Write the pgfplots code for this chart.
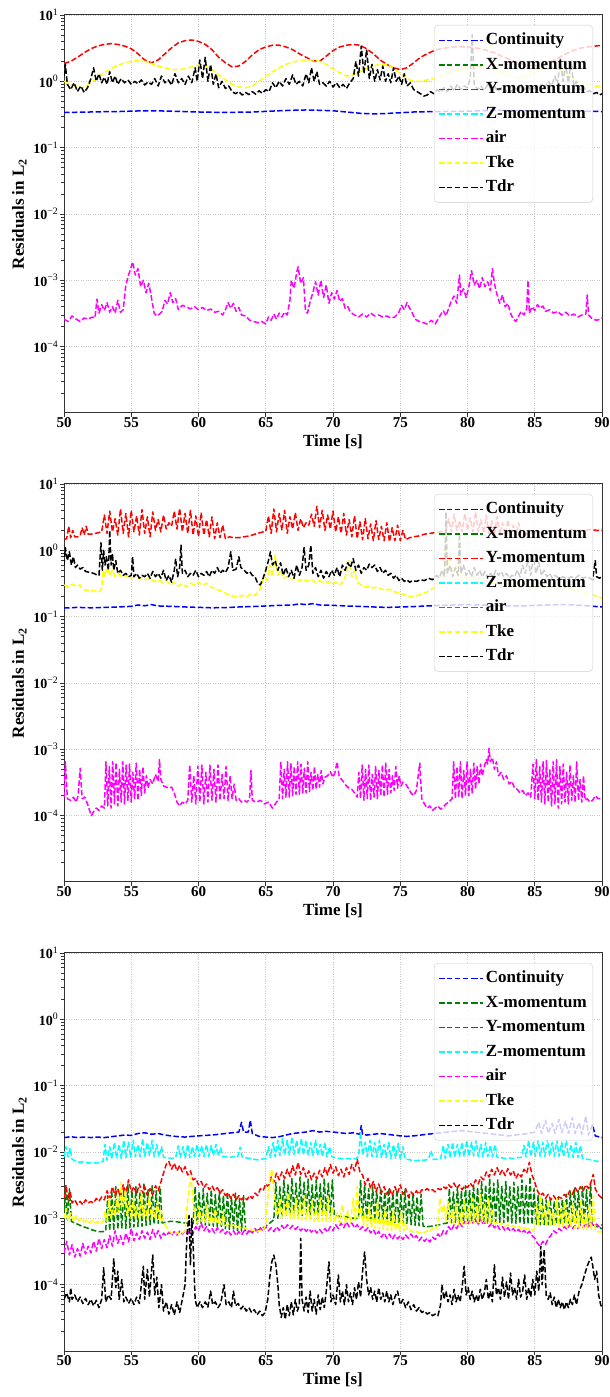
\documentclass[border=0pt]{standalone}
\usepackage{fontspec}
\setmainfont{Liberation Serif}
\usepackage{pgfplots}
\pgfplotsset{compat=1.18}

\definecolor{cContinuity}{RGB}{0,0,255}
\definecolor{cXmom}{RGB}{0,128,0}
\definecolor{cYmom}{RGB}{255,0,0}
\definecolor{cZmom}{RGB}{0,255,255}
\definecolor{cAir}{RGB}{255,0,255}
\definecolor{cTke}{RGB}{255,255,0}
\definecolor{cTdr}{RGB}{0,0,0}

\pgfplotsset{
  legend image code/.code={\draw[#1, line width=1.5pt, dash pattern=on 5.5pt off 2.4pt] (0pt,0pt) -- (33pt,0pt); \path (33pt,0pt) -- (44pt,0pt);},
  resline/.style={line width=1.5pt, dash pattern=on 5.5pt off 2.4pt, mark=none, line join=round},
}

\begin{document}
\begin{tikzpicture}
\useasboundingbox (0pt,0pt) rectangle (610pt,1397pt);

% ---------------- first run ----------------
\begin{axis}[at={(64pt,984pt)}, anchor=south west,
    ymode=log, scale only axis, width=538pt, height=398pt,
    xmin=50, xmax=90, ymin=1e-5, ymax=1e1,
    xtick={50,55,60,65,70,75,80,85,90},
    xticklabels={50,55,60,65,70,75,80,85,90},
    ytick={1e-4,1e-3,1e-2,1e-1,1e0,1e1},
    yticklabels={10\textsuperscript{\mdseries −4},10\textsuperscript{\mdseries −3},10\textsuperscript{\mdseries −2},10\textsuperscript{\mdseries −1},10\textsuperscript{\mdseries 0},10\textsuperscript{\mdseries 1}},
    minor ytick={2e-5,3e-5,4e-5,5e-5,6e-5,7e-5,8e-5,9e-5,2e-4,3e-4,4e-4,5e-4,6e-4,7e-4,8e-4,9e-4,2e-3,3e-3,4e-3,5e-3,6e-3,7e-3,8e-3,9e-3,2e-2,3e-2,4e-2,5e-2,6e-2,7e-2,8e-2,9e-2,0.2,0.3,0.4,0.5,0.6,0.7,0.8,0.9,2,3,4,5,6,7,8,9},
    tick pos=left, tick align=outside,
    major tick length=4pt, minor tick length=2.5pt,
    xmajorgrids, ymajorgrids,
    major grid style={gray!45, dotted, line width=0.6pt},
    axis line style={black!80, line width=1pt},
    tick style={black!80, line width=0.8pt},
    xticklabel style={font=\fontsize{15}{18}\selectfont\bfseries, inner sep=0.5pt},
    yticklabel style={font=\fontsize{14}{17}\selectfont\bfseries, inner sep=1.5pt},
    xlabel={Time [s]}, ylabel={Residuals in L\textsubscript{2}},
    xlabel style={font=\fontsize{17}{20}\selectfont\bfseries, at={(axis description cs:0.5,-0.073)}, anchor=center},
    ylabel style={font=\fontsize{17}{20}\selectfont\bfseries, at={(axis description cs:-0.083,0.5)}, anchor=center},
    legend cell align=left,
    legend style={at={(axis description cs:1,1)}, anchor=north east,
      xshift=-9pt, yshift=-10pt, draw=black!20, rounded corners=4pt,
      fill=white, fill opacity=0.8, text opacity=1,
      font=\fontsize{17}{20}\selectfont\bfseries,
      nodes={inner ysep=4.5pt, text height=12pt, text depth=3.5pt},
      inner xsep=4pt, inner ysep=3pt}]
\addplot[resline, color=cContinuity] coordinates {(50,0.34)(51,0.342)(52,0.345)(53,0.348)(54,0.35)(55,0.355)(56,0.36)(57,0.358)(58,0.355)(59,0.35)(60,0.345)(61,0.342)(62,0.34)(63,0.342)(64,0.345)(65,0.352)(66,0.36)(67,0.366)(68,0.37)(69,0.366)(70,0.36)(71,0.345)(72,0.33)(73,0.322)(74,0.328)(75,0.336)(76,0.345)(77,0.348)(78,0.35)(79,0.352)(80,0.355)(81,0.36)(82,0.365)(83,0.363)(84,0.36)(85,0.356)(86,0.355)(87,0.357)(88,0.36)(89,0.355)(90,0.35)};
\addlegendentry{Continuity}
\addlegendimage{resline, color=cXmom}
\addlegendentry{X-momentum}
\addplot[resline, color=cYmom] coordinates {(50,1.85)(50.5,2.0)(51,2.3)(51.5,2.7)(52,3.1)(52.5,3.4)(53,3.6)(53.5,3.7)(54,3.6)(54.5,3.4)(55,3.1)(55.5,2.6)(56,2.1)(56.5,1.9)(57,2.1)(57.5,2.6)(58,3.2)(58.5,3.8)(59,4.1)(59.5,4.2)(60,4.0)(60.5,3.6)(61,3.0)(61.5,2.3)(62,1.9)(62.5,1.65)(63,1.7)(63.5,2.0)(64,2.5)(64.5,3.0)(65,3.3)(65.5,3.5)(66,3.5)(66.5,3.3)(67,3.0)(67.5,2.6)(68,2.3)(68.5,2.05)(69,2.0)(69.5,2.4)(70,2.9)(70.5,3.3)(71,3.5)(71.5,3.6)(72,3.5)(72.5,3.1)(73,2.6)(73.5,2.1)(74,1.8)(74.5,1.6)(75,1.5)(75.5,1.6)(76,1.9)(76.5,2.3)(77,2.6)(77.5,2.9)(78,3.1)(78.5,3.2)(79,3.3)(79.5,3.3)(80,3.3)(80.5,3.2)(81,3.1)(81.5,2.9)(82,2.7)(82.5,2.4)(83,2.2)(83.5,2.0)(84,1.85)(84.5,1.75)(85,1.7)(85.5,1.75)(86,1.9)(86.5,2.1)(87,2.4)(87.5,2.7)(88,3.0)(88.5,3.2)(89,3.3)(89.5,3.4)(90,3.5)};
\addlegendentry{Y-momentum}
\addlegendimage{resline, color=cZmom}
\addlegendentry{Z-momentum}
\addplot[resline, color=cAir] coordinates {(50.0,2.6e-4)(50.3,2.4e-4)(50.6,2.9e-4)(50.9,2.6e-4)(51.2,2.4e-4)(51.5,2.7e-4)(51.8,2.6e-4)(52.1,2.8e-4)(52.3,2.7e-4)(52.45,5.2e-4)(52.6,3.2e-4)(52.8,4.3e-4)(53.0,3.5e-4)(53.2,4.6e-4)(53.4,3.3e-4)(53.6,4.0e-4)(53.8,3.2e-4)(54.0,5.0e-4)(54.2,3.3e-4)(54.4,3.6e-4)(54.6,8.5e-4)(54.8,1.2e-3)(55.0,1.6e-3)(55.1,1.9e-3)(55.3,1.2e-3)(55.5,1.5e-3)(55.7,8.0e-4)(55.9,1.0e-3)(56.1,6.5e-4)(56.3,9.0e-4)(56.5,5.5e-4)(56.7,3.2e-4)(56.9,2.9e-4)(57.1,3.1e-4)(57.3,3.4e-4)(57.5,5.0e-4)(57.7,4.4e-4)(57.9,6.5e-4)(58.1,4.6e-4)(58.3,5.3e-4)(58.5,3.6e-4)(58.8,4.2e-4)(59.1,4.0e-4)(59.4,3.7e-4)(59.7,4.0e-4)(60.0,3.6e-4)(60.3,3.9e-4)(60.6,3.5e-4)(60.9,3.7e-4)(61.2,3.3e-4)(61.5,3.4e-4)(61.8,3.0e-4)(62.0,3.6e-4)(62.2,4.6e-4)(62.4,3.8e-4)(62.6,4.5e-4)(62.8,3.4e-4)(63.0,3.9e-4)(63.2,3.0e-4)(63.5,2.9e-4)(63.8,2.5e-4)(64.1,2.4e-4)(64.4,2.3e-4)(64.7,2.4e-4)(65.0,2.2e-4)(65.2,2.8e-4)(65.4,2.5e-4)(65.6,3.1e-4)(65.8,2.6e-4)(66.0,3.2e-4)(66.2,2.8e-4)(66.4,3.3e-4)(66.6,3.0e-4)(66.8,5.0e-4)(66.9,1.0e-3)(67.1,7.5e-4)(67.3,1.3e-3)(67.4,1.6e-3)(67.6,9.0e-4)(67.8,1.1e-3)(67.95,3.5e-4)(68.1,3.2e-4)(68.3,4.8e-4)(68.5,6.5e-4)(68.7,9.5e-4)(68.9,6.0e-4)(69.1,1.0e-3)(69.3,5.5e-4)(69.5,8.5e-4)(69.7,4.5e-4)(69.9,6.5e-4)(70.1,5.2e-4)(70.3,7.0e-4)(70.5,4.8e-4)(70.7,5.3e-4)(70.9,3.8e-4)(71.1,4.0e-4)(71.3,3.3e-4)(71.6,3.0e-4)(71.9,2.8e-4)(72.2,3.1e-4)(72.5,2.8e-4)(72.8,3.2e-4)(73.1,2.9e-4)(73.4,3.0e-4)(73.7,2.8e-4)(74.0,2.9e-4)(74.3,2.7e-4)(74.6,2.8e-4)(74.9,3.3e-4)(75.1,4.2e-4)(75.3,3.6e-4)(75.5,4.6e-4)(75.7,3.8e-4)(75.9,3.2e-4)(76.1,2.6e-4)(76.4,2.4e-4)(76.7,2.3e-4)(77.0,2.2e-4)(77.3,2.5e-4)(77.6,2.2e-4)(77.9,2.8e-4)(78.2,3.5e-4)(78.4,2.9e-4)(78.6,3.8e-4)(78.8,4.9e-4)(79.0,5.8e-4)(79.2,4.5e-4)(79.4,1.2e-3)(79.5,6.0e-4)(79.7,7.5e-4)(79.9,5.5e-4)(80.1,8.0e-4)(80.3,1.4e-3)(80.5,8.5e-4)(80.7,1.0e-3)(80.9,7.5e-4)(81.1,1.1e-3)(81.3,8.0e-4)(81.5,9.5e-4)(81.7,7.0e-4)(81.85,1.5e-3)(82.0,9.0e-4)(82.2,6.0e-4)(82.4,4.5e-4)(82.6,6.0e-4)(82.8,4.0e-4)(83.0,4.5e-4)(83.2,3.2e-4)(83.4,2.6e-4)(83.6,2.4e-4)(83.8,2.9e-4)(84.0,3.4e-4)(84.2,3.0e-4)(84.4,3.7e-4)(84.5,1.0e-3)(84.6,3.2e-4)(84.8,4.0e-4)(85.0,3.5e-4)(85.2,4.3e-4)(85.4,3.8e-4)(85.6,4.1e-4)(85.8,3.4e-4)(86.1,3.6e-4)(86.4,3.2e-4)(86.7,3.4e-4)(87.0,3.0e-4)(87.3,3.3e-4)(87.6,2.9e-4)(87.9,3.1e-4)(88.2,2.8e-4)(88.5,3.0e-4)(88.8,3.1e-4)(88.9,6.0e-4)(89.0,3.0e-4)(89.3,2.6e-4)(89.6,2.5e-4)(89.9,2.6e-4)(90.0,2.7e-4)};
\addlegendentry{air}
\addplot[resline, color=cTke] coordinates {(50.0,1.0)(50.5,0.9)(51.0,0.82)(51.5,0.8)(52.0,0.95)(52.5,1.15)(53.0,1.35)(53.5,1.55)(54.0,1.75)(54.5,1.9)(55.0,2.0)(55.5,2.05)(56.0,2.0)(56.5,1.85)(57.0,1.7)(57.5,1.6)(58.0,1.5)(58.5,1.5)(59.0,1.55)(59.5,1.65)(60.0,1.75)(60.5,1.7)(61.0,1.5)(61.5,1.25)(62.0,1.05)(62.5,0.9)(63.0,0.82)(63.5,0.8)(64.0,0.85)(64.5,1.0)(65.0,1.2)(65.5,1.4)(66.0,1.6)(66.5,1.8)(67.0,1.95)(67.5,2.05)(68.0,2.1)(68.5,2.1)(69.0,2.0)(69.5,1.8)(70.0,1.55)(70.5,1.35)(71.0,1.2)(71.5,1.25)(72.0,1.4)(72.5,1.55)(73.0,1.7)(73.5,1.8)(74.0,1.8)(74.5,1.6)(75.0,1.3)(75.5,1.1)(76.0,1.0)(76.5,1.0)(77.0,1.05)(77.5,1.1)(78.0,1.2)(78.5,1.3)(79.0,1.4)(79.5,1.5)(80.0,1.6)(80.5,1.7)(81.0,1.7)(81.5,1.6)(82.0,1.5)(82.5,1.35)(83.0,1.25)(83.5,1.15)(84.0,1.15)(84.5,1.2)(85.0,1.35)(85.5,1.5)(86.0,1.6)(86.5,1.6)(87.0,1.45)(87.5,1.25)(88.0,1.05)(88.5,0.95)(89.0,0.9)(89.5,0.85)(90.0,0.85)};
\addlegendentry{Tke}
\addplot[resline, color=cTdr] coordinates {(50.0,1.2)(50.1,1.8)(50.25,0.9)(50.5,0.75)(50.75,0.95)(51.0,0.7)(51.25,0.85)(51.5,0.68)(51.75,0.8)(52.0,1.1)(52.2,1.6)(52.4,1.0)(52.6,1.3)(52.8,0.95)(53.0,1.15)(53.2,0.9)(53.4,1.4)(53.6,0.95)(53.8,1.2)(54.0,0.9)(54.25,1.1)(54.5,0.95)(54.75,1.05)(55.0,0.9)(55.25,1.0)(55.5,0.92)(55.75,1.05)(56.0,0.88)(56.25,0.98)(56.5,0.9)(56.75,1.1)(57.0,0.85)(57.25,1.2)(57.5,0.95)(57.75,1.05)(58.0,0.88)(58.25,1.3)(58.5,0.95)(58.75,1.1)(59.0,0.9)(59.25,1.2)(59.5,0.95)(59.75,1.6)(59.9,1.0)(60.1,2.1)(60.3,1.1)(60.5,2.3)(60.7,1.0)(60.9,1.8)(61.1,0.9)(61.3,1.3)(61.5,0.8)(61.75,1.0)(62.0,0.78)(62.25,0.85)(62.5,0.7)(62.75,0.65)(63.0,0.7)(63.25,0.62)(63.5,0.68)(63.75,0.63)(64.0,0.7)(64.25,0.64)(64.5,0.72)(64.75,0.66)(65.0,0.75)(65.25,0.7)(65.5,0.95)(65.75,0.8)(66.0,1.0)(66.25,0.85)(66.5,1.1)(66.75,0.9)(67.0,1.25)(67.25,0.9)(67.5,1.0)(67.75,0.85)(68.0,1.3)(68.2,0.95)(68.4,1.6)(68.6,1.0)(68.8,1.4)(69.0,0.9)(69.25,0.95)(69.5,0.85)(69.75,1.0)(70.0,0.82)(70.25,0.95)(70.5,0.8)(70.75,0.9)(71.0,0.78)(71.25,0.95)(71.5,1.1)(71.7,2.0)(71.9,1.2)(72.1,3.4)(72.3,1.3)(72.5,3.0)(72.7,1.1)(72.9,1.8)(73.1,1.0)(73.3,1.5)(73.5,1.05)(73.7,1.7)(73.9,1.0)(74.1,1.3)(74.3,0.95)(74.5,1.6)(74.7,1.0)(74.9,1.2)(75.1,0.9)(75.3,1.3)(75.5,0.85)(75.75,0.95)(76.0,0.75)(76.25,0.7)(76.5,0.65)(76.75,0.6)(77.0,0.62)(77.25,0.7)(77.5,0.65)(77.75,0.75)(78.0,0.68)(78.25,0.8)(78.5,0.7)(78.75,0.85)(79.0,0.72)(79.25,0.9)(79.5,0.75)(79.75,0.85)(80.0,0.8)(80.2,1.1)(80.35,5.0)(80.5,0.9)(80.75,0.75)(81.0,0.85)(81.25,0.72)(81.5,0.9)(81.75,0.75)(82.0,0.85)(82.25,0.7)(82.5,0.8)(82.75,0.68)(83.0,0.75)(83.25,0.7)(83.5,0.8)(83.75,0.72)(84.0,0.9)(84.25,0.75)(84.5,0.85)(84.75,0.72)(85.0,0.8)(85.25,0.75)(85.5,0.9)(85.75,0.8)(86.0,1.0)(86.25,0.85)(86.5,1.2)(86.7,0.9)(86.9,2.2)(87.1,1.0)(87.3,1.8)(87.5,0.95)(87.7,2.0)(87.9,0.85)(88.1,1.0)(88.35,0.75)(88.6,0.85)(88.85,0.7)(89.1,0.72)(89.35,0.65)(89.6,0.68)(89.8,0.62)(90.0,0.65)};
\addlegendentry{Tdr}
\end{axis}

% ---------------- second run ----------------
\begin{axis}[at={(64pt,515pt)}, anchor=south west,
    ymode=log, scale only axis, width=538pt, height=398pt,
    xmin=50, xmax=90, ymin=1e-5, ymax=1e1,
    xtick={50,55,60,65,70,75,80,85,90},
    xticklabels={50,55,60,65,70,75,80,85,90},
    ytick={1e-4,1e-3,1e-2,1e-1,1e0,1e1},
    yticklabels={10\textsuperscript{\mdseries −4},10\textsuperscript{\mdseries −3},10\textsuperscript{\mdseries −2},10\textsuperscript{\mdseries −1},10\textsuperscript{\mdseries 0},10\textsuperscript{\mdseries 1}},
    minor ytick={2e-5,3e-5,4e-5,5e-5,6e-5,7e-5,8e-5,9e-5,2e-4,3e-4,4e-4,5e-4,6e-4,7e-4,8e-4,9e-4,2e-3,3e-3,4e-3,5e-3,6e-3,7e-3,8e-3,9e-3,2e-2,3e-2,4e-2,5e-2,6e-2,7e-2,8e-2,9e-2,0.2,0.3,0.4,0.5,0.6,0.7,0.8,0.9,2,3,4,5,6,7,8,9},
    tick pos=left, tick align=outside,
    major tick length=4pt, minor tick length=2.5pt,
    xmajorgrids, ymajorgrids,
    major grid style={gray!45, dotted, line width=0.6pt},
    axis line style={black!80, line width=1pt},
    tick style={black!80, line width=0.8pt},
    xticklabel style={font=\fontsize{15}{18}\selectfont\bfseries, inner sep=0.5pt},
    yticklabel style={font=\fontsize{14}{17}\selectfont\bfseries, inner sep=1.5pt},
    xlabel={Time [s]}, ylabel={Residuals in L\textsubscript{2}},
    xlabel style={font=\fontsize{17}{20}\selectfont\bfseries, at={(axis description cs:0.5,-0.073)}, anchor=center},
    ylabel style={font=\fontsize{17}{20}\selectfont\bfseries, at={(axis description cs:-0.083,0.5)}, anchor=center},
    legend cell align=left,
    legend style={at={(axis description cs:1,1)}, anchor=north east,
      xshift=-9pt, yshift=-10pt, draw=black!20, rounded corners=4pt,
      fill=white, fill opacity=0.8, text opacity=1,
      font=\fontsize{17}{20}\selectfont\bfseries,
      nodes={inner ysep=4.5pt, text height=12pt, text depth=3.5pt},
      inner xsep=4pt, inner ysep=3pt}]
\addplot[resline, color=cContinuity] coordinates {(50,0.135)(51,0.138)(52,0.136)(53,0.138)(54,0.14)(55,0.143)(55.5,0.15)(56,0.146)(56.5,0.152)(57,0.145)(58,0.143)(59,0.14)(60,0.138)(61,0.136)(62,0.137)(63,0.14)(64,0.142)(65,0.145)(66,0.148)(67,0.15)(67.5,0.156)(68,0.152)(68.5,0.157)(69,0.15)(70,0.148)(71,0.145)(72,0.143)(73,0.14)(74,0.138)(75,0.14)(76,0.142)(77,0.145)(78,0.148)(79,0.15)(80,0.152)(81,0.15)(82,0.148)(83,0.146)(84,0.145)(85,0.148)(86,0.15)(87,0.152)(88,0.15)(89,0.145)(90,0.14)};
\addlegendentry{Continuity}
\addlegendimage{resline, color=cXmom}
\addlegendentry{X-momentum}
\addplot[resline, color=cYmom] coordinates {(50.0,1.45)(50.2,1.5)(50.35,2.3)(50.5,1.55)(50.65,2.0)(50.8,1.6)(51.0,1.6)(51.2,1.65)(51.35,2.2)(51.5,1.7)(51.65,2.3)(51.8,1.75)(52.0,1.75)(52.3,1.8)(52.6,1.85)(52.8,1.9)(53.0,3.4)(53.2,1.8)(53.4,3.9)(53.6,1.9)(53.8,3.0)(54.0,1.7)(54.2,4.2)(54.4,1.8)(54.6,3.6)(54.8,1.6)(55.0,4.0)(55.2,1.9)(55.4,3.3)(55.6,1.7)(55.8,4.1)(56.0,1.8)(56.2,3.2)(56.4,1.6)(56.6,3.8)(56.8,2.0)(57.0,2.9)(57.2,1.9)(57.4,3.4)(57.6,2.1)(57.8,2.6)(58.0,2.3)(58.2,3.9)(58.4,2.1)(58.6,4.3)(58.8,1.9)(59.0,3.6)(59.2,1.8)(59.4,4.0)(59.6,1.7)(59.8,3.3)(60.0,1.6)(60.2,3.7)(60.4,1.7)(60.6,2.9)(60.8,1.6)(61.0,3.2)(61.2,1.5)(61.4,2.6)(61.6,1.55)(61.8,2.4)(62.0,1.5)(62.3,1.6)(62.6,1.55)(63.0,1.55)(63.4,1.6)(63.8,1.65)(64.2,1.75)(64.6,1.85)(65.0,1.95)(65.2,3.3)(65.4,1.8)(65.6,4.2)(65.8,1.9)(66.0,3.6)(66.2,2.0)(66.4,4.0)(66.6,1.8)(66.8,3.2)(67.0,2.1)(67.2,3.7)(67.4,2.0)(67.6,3.0)(67.8,2.2)(68.0,2.6)(68.2,2.4)(68.4,3.5)(68.6,2.3)(68.8,4.6)(69.0,2.2)(69.2,4.0)(69.4,2.0)(69.6,3.4)(69.8,2.1)(70.0,3.9)(70.2,1.9)(70.4,3.2)(70.6,1.8)(70.8,3.6)(71.0,1.7)(71.2,2.9)(71.4,1.6)(71.6,3.3)(71.8,1.5)(72.0,2.7)(72.2,1.45)(72.4,3.0)(72.6,1.5)(72.8,2.5)(73.0,1.4)(73.2,2.8)(73.4,1.45)(73.6,2.3)(73.8,1.4)(74.0,2.6)(74.2,1.35)(74.4,2.2)(74.6,1.4)(74.8,2.4)(75.0,1.4)(75.2,2.0)(75.4,1.45)(75.7,1.55)(76.0,1.6)(76.4,1.65)(76.8,1.75)(77.2,1.8)(77.6,1.85)(78.0,1.9)(78.4,2.0)(78.6,3.0)(78.8,1.9)(79.0,3.5)(79.2,2.0)(79.4,2.8)(79.6,1.9)(79.8,3.6)(80.0,2.0)(80.2,3.1)(80.4,1.9)(80.6,3.8)(80.8,1.9)(81.0,2.9)(81.2,1.8)(81.4,3.4)(81.6,1.8)(81.8,2.8)(82.0,1.7)(82.2,3.2)(82.4,1.7)(82.6,2.6)(82.8,1.7)(83.0,2.9)(83.2,1.65)(83.4,2.4)(83.6,1.7)(83.8,2.6)(84.0,1.7)(84.3,1.75)(84.7,1.8)(85.2,1.85)(85.7,1.9)(86.2,1.95)(86.7,2.0)(87.2,2.0)(87.7,2.05)(88.2,2.0)(88.7,2.0)(89.2,2.05)(89.6,2.0)(90.0,2.0)};
\addlegendentry{Y-momentum}
\addlegendimage{resline, color=cZmom}
\addlegendentry{Z-momentum}
\addplot[resline, color=cAir] coordinates {(50.0,1.9e-4)(50.1,6.5e-4)(50.25,1.8e-4)(50.5,1.7e-4)(50.7,1.9e-4)(50.9,1.6e-4)(51.05,2.0e-4)(51.2,5.2e-4)(51.35,1.8e-4)(51.55,1.9e-4)(51.75,1.5e-4)(51.9,1.2e-4)(52.05,1.0e-4)(52.2,1.15e-4)(52.4,1.3e-4)(52.6,1.2e-4)(52.8,1.4e-4)(53.0,1.3e-4)(53.12,6.5e-4)(53.25,1.4e-4)(53.37,5.5e-4)(53.5,1.3e-4)(53.62,6.5e-4)(53.75,1.5e-4)(53.87,6.3e-4)(54.0,1.4e-4)(54.12,5.0e-4)(54.25,1.6e-4)(54.37,6.5e-4)(54.5,1.5e-4)(54.62,5.8e-4)(54.75,1.7e-4)(54.87,6.0e-4)(55.0,1.6e-4)(55.12,4.5e-4)(55.25,1.8e-4)(55.37,6.2e-4)(55.5,1.7e-4)(55.62,5.0e-4)(55.75,2.0e-4)(55.87,5.5e-4)(56.0,2.2e-4)(56.12,4.0e-4)(56.25,2.6e-4)(56.4,3.5e-4)(56.6,3.0e-4)(56.8,4.2e-4)(57.0,3.3e-4)(57.1,7.0e-4)(57.2,3.5e-4)(57.4,2.8e-4)(57.6,2.7e-4)(57.8,2.6e-4)(58.0,2.7e-4)(58.2,2.2e-4)(58.4,1.6e-4)(58.6,1.4e-4)(58.8,1.6e-4)(59.0,1.5e-4)(59.2,1.7e-4)(59.35,5.8e-4)(59.5,1.6e-4)(59.65,4.0e-4)(59.8,1.5e-4)(59.95,5.6e-4)(60.1,1.6e-4)(60.25,5.8e-4)(60.4,1.5e-4)(60.55,4.5e-4)(60.7,1.6e-4)(60.85,5.8e-4)(61.0,1.7e-4)(61.15,5.0e-4)(61.3,1.6e-4)(61.45,5.8e-4)(61.6,1.7e-4)(61.75,4.2e-4)(61.9,1.8e-4)(62.05,5.5e-4)(62.2,1.7e-4)(62.35,4.0e-4)(62.5,1.8e-4)(62.65,3.0e-4)(62.8,1.7e-4)(63.0,1.8e-4)(63.2,1.6e-4)(63.4,1.7e-4)(63.6,1.6e-4)(63.8,1.8e-4)(63.9,4.8e-4)(64.0,1.7e-4)(64.3,1.6e-4)(64.6,1.7e-4)(64.9,1.5e-4)(65.2,1.6e-4)(65.5,1.3e-4)(65.8,1.6e-4)(66.0,1.8e-4)(66.12,6.5e-4)(66.25,1.8e-4)(66.37,5.0e-4)(66.5,1.9e-4)(66.62,6.5e-4)(66.75,1.9e-4)(66.87,6.2e-4)(67.0,2.0e-4)(67.12,5.5e-4)(67.25,2.1e-4)(67.37,6.5e-4)(67.5,2.1e-4)(67.62,6.0e-4)(67.75,2.2e-4)(67.87,5.2e-4)(68.0,2.2e-4)(68.12,6.5e-4)(68.25,2.3e-4)(68.37,4.5e-4)(68.5,2.4e-4)(68.62,5.5e-4)(68.75,2.5e-4)(68.87,4.2e-4)(69.0,2.7e-4)(69.12,4.8e-4)(69.25,3.0e-4)(69.4,3.8e-4)(69.6,4.0e-4)(69.8,4.6e-4)(70.0,3.8e-4)(70.15,4.5e-4)(70.3,6.5e-4)(70.45,4.0e-4)(70.6,3.6e-4)(70.8,3.2e-4)(71.0,2.8e-4)(71.2,2.6e-4)(71.4,2.5e-4)(71.6,2.2e-4)(71.8,1.9e-4)(71.92,4.5e-4)(72.05,1.8e-4)(72.17,5.8e-4)(72.3,1.7e-4)(72.42,5.0e-4)(72.55,1.8e-4)(72.67,5.8e-4)(72.8,1.7e-4)(72.92,4.2e-4)(73.05,1.9e-4)(73.17,5.5e-4)(73.3,1.8e-4)(73.42,4.8e-4)(73.55,2.0e-4)(73.67,5.8e-4)(73.8,1.9e-4)(73.92,6.2e-4)(74.05,2.1e-4)(74.17,5.0e-4)(74.3,2.2e-4)(74.42,4.0e-4)(74.55,2.4e-4)(74.67,5.5e-4)(74.8,2.6e-4)(74.92,4.0e-4)(75.05,2.8e-4)(75.2,3.2e-4)(75.4,3.0e-4)(75.6,2.6e-4)(75.8,2.2e-4)(76.0,2.0e-4)(76.2,2.4e-4)(76.45,6.2e-4)(76.6,1.8e-4)(76.8,1.5e-4)(77.0,1.3e-4)(77.2,1.4e-4)(77.4,1.2e-4)(77.6,1.3e-4)(77.8,1.4e-4)(78.0,1.25e-4)(78.2,1.35e-4)(78.4,1.5e-4)(78.6,1.6e-4)(78.85,1.8e-4)(78.97,6.5e-4)(79.1,1.8e-4)(79.22,5.5e-4)(79.35,1.9e-4)(79.47,6.5e-4)(79.6,1.8e-4)(79.72,4.8e-4)(79.85,2.0e-4)(79.97,6.5e-4)(80.1,2.0e-4)(80.22,5.0e-4)(80.35,2.2e-4)(80.47,6.2e-4)(80.6,2.5e-4)(80.72,5.5e-4)(80.85,3.0e-4)(80.97,6.0e-4)(81.1,4.0e-4)(81.25,5.5e-4)(81.4,7.0e-4)(81.5,6.0e-4)(81.6,1.03e-3)(81.7,6.5e-4)(81.85,7.5e-4)(82.0,5.0e-4)(82.15,6.5e-4)(82.3,4.0e-4)(82.5,4.5e-4)(82.7,3.5e-4)(82.9,4.0e-4)(83.1,3.0e-4)(83.3,3.3e-4)(83.5,2.6e-4)(83.7,2.5e-4)(83.9,2.2e-4)(84.1,2.4e-4)(84.3,2.0e-4)(84.5,2.2e-4)(84.7,1.9e-4)(84.87,6.0e-4)(85.0,1.8e-4)(85.12,7.0e-4)(85.25,1.7e-4)(85.37,5.5e-4)(85.5,1.6e-4)(85.62,6.5e-4)(85.75,1.5e-4)(85.87,6.8e-4)(86.0,1.6e-4)(86.12,5.0e-4)(86.25,1.4e-4)(86.37,6.5e-4)(86.5,1.5e-4)(86.62,7.0e-4)(86.75,1.3e-4)(86.87,5.5e-4)(87.0,1.5e-4)(87.12,6.0e-4)(87.25,1.6e-4)(87.37,4.5e-4)(87.5,1.5e-4)(87.62,5.8e-4)(87.75,1.7e-4)(87.87,4.0e-4)(88.0,1.6e-4)(88.12,6.5e-4)(88.25,1.7e-4)(88.37,3.5e-4)(88.5,1.6e-4)(88.62,4.0e-4)(88.75,1.7e-4)(88.9,1.8e-4)(89.1,1.6e-4)(89.3,1.7e-4)(89.5,2.0e-4)(89.7,1.8e-4)(89.9,1.8e-4)(90.0,1.9e-4)};
\addlegendentry{air}
\addplot[resline, color=cTke] coordinates {(50.0,0.3)(50.3,0.28)(50.6,0.31)(50.9,0.29)(51.2,0.3)(51.4,0.26)(51.7,0.25)(52.0,0.24)(52.3,0.25)(52.6,0.24)(52.8,0.26)(52.9,0.5)(53.0,0.4)(53.2,0.55)(53.4,0.42)(53.6,0.5)(53.8,0.4)(54.0,0.45)(54.3,0.4)(54.6,0.42)(54.9,0.38)(55.2,0.4)(55.5,0.37)(55.8,0.39)(56.1,0.36)(56.4,0.38)(56.7,0.34)(57.0,0.36)(57.3,0.33)(57.6,0.35)(57.9,0.3)(58.2,0.33)(58.5,0.29)(58.8,0.31)(59.1,0.28)(59.4,0.32)(59.7,0.3)(60.0,0.33)(60.3,0.3)(60.6,0.32)(60.9,0.28)(61.2,0.27)(61.5,0.25)(61.8,0.24)(62.1,0.22)(62.4,0.21)(62.7,0.2)(63.0,0.2)(63.3,0.21)(63.6,0.2)(63.9,0.22)(64.2,0.21)(64.5,0.24)(64.7,0.3)(64.9,0.45)(65.1,0.35)(65.3,0.6)(65.5,0.4)(65.7,0.85)(65.9,0.42)(66.1,0.5)(66.3,0.38)(66.6,0.4)(66.9,0.36)(67.2,0.38)(67.5,0.35)(67.8,0.37)(68.1,0.34)(68.4,0.36)(68.7,0.33)(69.0,0.35)(69.3,0.32)(69.6,0.34)(69.9,0.31)(70.2,0.33)(70.5,0.3)(70.8,0.35)(71.0,0.45)(71.2,0.7)(71.4,0.4)(71.6,0.5)(71.8,0.33)(72.1,0.3)(72.4,0.28)(72.7,0.29)(73.0,0.27)(73.3,0.28)(73.6,0.26)(73.9,0.25)(74.2,0.26)(74.5,0.24)(74.8,0.23)(75.1,0.22)(75.4,0.21)(75.7,0.2)(76.0,0.2)(76.3,0.21)(76.6,0.22)(76.9,0.23)(77.2,0.25)(77.5,0.27)(77.8,0.3)(78.1,0.4)(78.3,0.6)(78.4,2.0)(78.5,0.5)(78.7,0.9)(78.9,0.45)(79.1,0.6)(79.3,0.4)(79.4,1.5)(79.5,0.45)(79.8,0.4)(80.1,0.38)(80.4,0.4)(80.7,0.36)(81.0,0.37)(81.3,0.34)(81.6,0.35)(81.9,0.32)(82.2,0.33)(82.5,0.3)(82.8,0.31)(83.1,0.29)(83.4,0.3)(83.7,0.28)(84.0,0.3)(84.3,0.28)(84.6,0.29)(84.9,0.27)(85.2,0.28)(85.5,0.26)(85.8,0.28)(86.1,0.27)(86.4,0.29)(86.7,0.27)(87.0,0.28)(87.3,0.26)(87.6,0.27)(87.9,0.25)(88.2,0.26)(88.5,0.24)(88.8,0.23)(89.1,0.22)(89.4,0.21)(89.7,0.2)(90.0,0.19)};
\addlegendentry{Tke}
\addplot[resline, color=cTdr] coordinates {(50.0,0.6)(50.1,1.1)(50.25,0.7)(50.4,0.95)(50.55,0.6)(50.7,0.8)(50.85,0.55)(51.0,0.6)(51.2,0.52)(51.4,0.55)(51.6,0.48)(51.8,0.47)(52.0,0.46)(52.2,0.45)(52.4,0.43)(52.6,0.42)(52.75,1.3)(52.85,0.5)(52.95,1.0)(53.05,0.6)(53.15,0.8)(53.3,0.5)(53.4,2.0)(53.5,0.6)(53.6,0.9)(53.7,0.5)(53.85,0.7)(54.0,0.45)(54.2,0.5)(54.4,0.42)(54.6,0.45)(54.8,0.4)(55.0,0.42)(55.1,0.8)(55.2,0.4)(55.4,0.45)(55.6,0.38)(55.8,0.42)(56.0,0.4)(56.2,0.45)(56.4,0.38)(56.6,0.48)(56.8,0.4)(57.0,0.45)(57.2,0.38)(57.4,0.5)(57.6,0.35)(57.8,0.42)(58.0,0.33)(58.2,0.5)(58.3,0.75)(58.45,0.4)(58.6,0.55)(58.7,1.2)(58.8,0.45)(59.0,0.5)(59.2,0.4)(59.4,0.45)(59.6,0.42)(59.8,0.5)(60.0,0.4)(60.2,0.45)(60.4,0.42)(60.6,0.48)(60.8,0.4)(61.0,0.5)(61.2,0.45)(61.4,0.55)(61.6,0.45)(61.8,0.5)(62.0,0.46)(62.2,0.55)(62.4,0.95)(62.55,0.5)(62.8,0.52)(63.0,0.8)(63.15,0.55)(63.4,0.5)(63.6,0.45)(63.8,0.48)(64.0,0.42)(64.2,0.4)(64.4,0.32)(64.6,0.3)(64.8,0.38)(65.0,0.5)(65.2,0.7)(65.35,0.95)(65.5,0.6)(65.7,0.7)(65.9,0.5)(66.1,0.65)(66.3,0.42)(66.5,0.55)(66.7,0.4)(66.9,0.5)(67.1,0.38)(67.3,0.6)(67.5,0.42)(67.7,0.55)(67.85,1.1)(68.0,0.5)(68.2,0.6)(68.35,1.2)(68.5,0.45)(68.7,0.55)(68.9,0.4)(69.1,0.5)(69.3,0.38)(69.5,0.48)(69.7,0.4)(69.9,0.5)(70.1,0.42)(70.3,0.55)(70.5,0.4)(70.7,0.6)(70.9,0.5)(71.1,0.65)(71.3,0.55)(71.5,0.75)(71.7,0.5)(71.9,0.6)(72.1,0.45)(72.3,0.55)(72.5,0.5)(72.7,0.62)(72.9,0.55)(73.1,0.6)(73.3,0.48)(73.5,0.55)(73.7,0.45)(73.9,0.5)(74.1,0.42)(74.3,0.45)(74.5,0.38)(74.7,0.42)(74.9,0.35)(75.1,0.38)(75.3,0.34)(75.5,0.36)(75.7,0.33)(75.9,0.35)(76.2,0.34)(76.5,0.36)(76.8,0.35)(77.1,0.38)(77.4,0.36)(77.7,0.42)(77.9,0.38)(78.1,0.5)(78.3,0.4)(78.4,3.8)(78.5,0.45)(78.7,0.6)(78.9,0.4)(79.1,0.55)(79.3,0.42)(79.4,1.8)(79.5,0.45)(79.7,0.6)(79.9,0.42)(80.1,0.5)(80.3,0.4)(80.5,0.55)(80.7,0.42)(80.9,0.5)(81.1,0.4)(81.3,0.48)(81.5,0.38)(81.7,0.45)(81.9,0.4)(82.1,0.5)(82.3,0.42)(82.5,0.48)(82.7,0.4)(82.9,0.45)(83.1,0.38)(83.3,0.42)(83.5,0.4)(83.7,0.5)(83.9,0.4)(84.1,0.6)(84.3,0.45)(84.5,0.75)(84.7,0.42)(84.9,0.8)(85.1,0.45)(85.3,0.65)(85.5,0.42)(85.7,0.5)(85.9,0.4)(86.1,0.45)(86.3,0.38)(86.5,0.42)(86.8,0.38)(87.1,0.4)(87.4,0.37)(87.7,0.4)(88.0,0.38)(88.3,0.42)(88.6,0.38)(88.9,0.4)(89.1,0.38)(89.3,0.36)(89.5,0.7)(89.6,0.4)(89.8,0.38)(90.0,0.4)};
\addlegendentry{Tdr}
\end{axis}

% ---------------- third run ----------------
\begin{axis}[at={(64pt,46pt)}, anchor=south west,
    ymode=log, scale only axis, width=538pt, height=398pt,
    xmin=50, xmax=90, ymin=1e-5, ymax=1e1,
    xtick={50,55,60,65,70,75,80,85,90},
    xticklabels={50,55,60,65,70,75,80,85,90},
    ytick={1e-4,1e-3,1e-2,1e-1,1e0,1e1},
    yticklabels={10\textsuperscript{\mdseries −4},10\textsuperscript{\mdseries −3},10\textsuperscript{\mdseries −2},10\textsuperscript{\mdseries −1},10\textsuperscript{\mdseries 0},10\textsuperscript{\mdseries 1}},
    minor ytick={2e-5,3e-5,4e-5,5e-5,6e-5,7e-5,8e-5,9e-5,2e-4,3e-4,4e-4,5e-4,6e-4,7e-4,8e-4,9e-4,2e-3,3e-3,4e-3,5e-3,6e-3,7e-3,8e-3,9e-3,2e-2,3e-2,4e-2,5e-2,6e-2,7e-2,8e-2,9e-2,0.2,0.3,0.4,0.5,0.6,0.7,0.8,0.9,2,3,4,5,6,7,8,9},
    tick pos=left, tick align=outside,
    major tick length=4pt, minor tick length=2.5pt,
    xmajorgrids, ymajorgrids,
    major grid style={gray!45, dotted, line width=0.6pt},
    axis line style={black!80, line width=1pt},
    tick style={black!80, line width=0.8pt},
    xticklabel style={font=\fontsize{15}{18}\selectfont\bfseries, inner sep=0.5pt},
    yticklabel style={font=\fontsize{14}{17}\selectfont\bfseries, inner sep=1.5pt},
    xlabel={Time [s]}, ylabel={Residuals in L\textsubscript{2}},
    xlabel style={font=\fontsize{17}{20}\selectfont\bfseries, at={(axis description cs:0.5,-0.073)}, anchor=center},
    ylabel style={font=\fontsize{17}{20}\selectfont\bfseries, at={(axis description cs:-0.083,0.5)}, anchor=center},
    legend cell align=left,
    legend style={at={(axis description cs:1,1)}, anchor=north east,
      xshift=-9pt, yshift=-10pt, draw=black!20, rounded corners=4pt,
      fill=white, fill opacity=0.8, text opacity=1,
      font=\fontsize{17}{20}\selectfont\bfseries,
      nodes={inner ysep=4.5pt, text height=12pt, text depth=3.5pt},
      inner xsep=4pt, inner ysep=3pt}]
\addplot[resline, color=cContinuity] coordinates {(50.0,0.0165)(50.5,0.017)(51.0,0.0165)(51.5,0.0168)(52.0,0.0165)(52.5,0.0168)(53.0,0.0165)(53.5,0.017)(54.0,0.0175)(54.5,0.018)(55.0,0.0178)(55.5,0.019)(56.0,0.0195)(56.5,0.0185)(57.0,0.019)(57.5,0.018)(58.0,0.0175)(58.5,0.017)(59.0,0.0168)(59.5,0.0172)(60.0,0.0175)(60.5,0.0178)(61.0,0.018)(61.5,0.0185)(62.0,0.019)(62.5,0.0195)(63.0,0.02)(63.2,0.028)(63.35,0.02)(63.7,0.02)(63.85,0.03)(64.0,0.019)(64.5,0.0172)(65.0,0.0168)(65.5,0.0165)(66.0,0.017)(66.5,0.018)(67.0,0.019)(67.5,0.0195)(68.0,0.02)(68.5,0.021)(69.0,0.02)(69.5,0.0205)(70.0,0.02)(70.5,0.0195)(71.0,0.019)(71.5,0.0195)(72.0,0.0185)(72.1,0.025)(72.2,0.0185)(72.5,0.018)(73.0,0.0185)(73.5,0.019)(74.0,0.0185)(74.5,0.018)(75.0,0.0175)(75.5,0.0172)(76.0,0.0175)(76.5,0.018)(77.0,0.0185)(77.5,0.019)(78.0,0.0195)(78.5,0.02)(79.0,0.0205)(79.5,0.021)(80.0,0.0205)(80.5,0.02)(81.0,0.0195)(81.5,0.019)(82.0,0.0185)(82.5,0.018)(83.0,0.0175)(83.5,0.018)(84.0,0.0185)(84.5,0.019)(85.0,0.02)(85.3,0.028)(85.5,0.019)(85.8,0.03)(86.0,0.019)(86.3,0.027)(86.5,0.019)(86.8,0.031)(87.0,0.0195)(87.3,0.029)(87.5,0.019)(87.8,0.033)(88.0,0.019)(88.3,0.028)(88.5,0.0185)(88.8,0.035)(89.0,0.018)(89.3,0.026)(89.5,0.0175)(90.0,0.0165)};
\addlegendentry{Continuity}
\addplot[resline, color=cXmom] coordinates {(50.0,1.0e-3)(50.12,3.0e-3)(50.25,9.5e-4)(50.4,2.8e-3)(50.55,9.0e-4)(50.8,8.5e-4)(51.1,8.0e-4)(51.4,7.5e-4)(51.7,7.2e-4)(52.0,6.8e-4)(52.3,6.5e-4)(52.6,6.3e-4)(52.9,6.3e-4)(53.1,6.4e-4)(53.25,2.2e-3)(53.4,6.5e-4)(53.55,2.6e-3)(53.7,6.6e-4)(53.85,3.0e-3)(54.0,6.8e-4)(54.15,2.4e-3)(54.3,7.0e-4)(54.45,2.8e-3)(54.6,7.0e-4)(54.75,3.2e-3)(54.9,7.2e-4)(55.05,2.6e-3)(55.2,7.4e-4)(55.35,3.0e-3)(55.5,7.5e-4)(55.65,2.5e-3)(55.8,7.6e-4)(55.95,3.4e-3)(56.1,7.8e-4)(56.25,2.7e-3)(56.4,8.0e-4)(56.55,3.1e-3)(56.7,8.2e-4)(56.85,2.6e-3)(57.0,8.4e-4)(57.15,2.9e-3)(57.3,8.5e-4)(57.6,8.8e-4)(57.9,9.0e-4)(58.2,9.0e-4)(58.5,8.8e-4)(58.8,8.6e-4)(59.1,8.5e-4)(59.4,8.4e-4)(59.6,8.3e-4)(59.75,3.0e-3)(59.9,8.2e-4)(60.05,2.5e-3)(60.2,8.0e-4)(60.35,2.8e-3)(60.5,7.9e-4)(60.65,2.4e-3)(60.8,7.8e-4)(60.95,2.7e-3)(61.1,7.6e-4)(61.25,2.3e-3)(61.4,7.4e-4)(61.55,2.6e-3)(61.7,7.2e-4)(61.85,2.2e-3)(62.0,7.0e-4)(62.15,2.5e-3)(62.3,6.8e-4)(62.45,2.1e-3)(62.6,6.6e-4)(62.75,2.4e-3)(62.9,6.5e-4)(63.05,2.0e-3)(63.2,6.4e-4)(63.35,2.2e-3)(63.5,6.3e-4)(63.8,6.3e-4)(64.1,6.4e-4)(64.4,6.6e-4)(64.7,7.0e-4)(65.0,7.6e-4)(65.3,8.5e-4)(65.6,9.5e-4)(65.75,3.5e-3)(65.9,1.0e-3)(66.05,3.0e-3)(66.2,1.05e-3)(66.35,3.8e-3)(66.5,1.1e-3)(66.65,3.2e-3)(66.8,1.1e-3)(66.95,4.0e-3)(67.1,1.1e-3)(67.25,3.4e-3)(67.4,1.1e-3)(67.55,4.2e-3)(67.7,1.1e-3)(67.85,3.5e-3)(68.0,1.1e-3)(68.15,3.9e-3)(68.3,1.1e-3)(68.45,3.2e-3)(68.6,1.1e-3)(68.75,3.8e-3)(68.9,1.1e-3)(69.05,3.3e-3)(69.2,1.1e-3)(69.35,4.0e-3)(69.5,1.1e-3)(69.65,3.4e-3)(69.8,1.1e-3)(69.95,3.8e-3)(70.1,1.1e-3)(70.4,1.08e-3)(70.7,1.05e-3)(71.0,1.05e-3)(71.3,1.02e-3)(71.6,1.0e-3)(71.9,1.0e-3)(72.05,3.8e-3)(72.2,9.8e-4)(72.35,3.2e-3)(72.5,9.6e-4)(72.65,2.8e-3)(72.8,9.4e-4)(72.95,3.0e-3)(73.1,9.2e-4)(73.25,2.6e-3)(73.4,9.0e-4)(73.55,2.9e-3)(73.7,8.9e-4)(73.85,2.5e-3)(74.0,8.8e-4)(74.15,2.8e-3)(74.3,8.7e-4)(74.45,2.4e-3)(74.6,8.6e-4)(74.75,2.7e-3)(74.9,8.5e-4)(75.05,2.3e-3)(75.2,8.4e-4)(75.35,2.6e-3)(75.5,8.2e-4)(75.65,2.2e-3)(75.8,8.0e-4)(75.95,2.4e-3)(76.1,7.8e-4)(76.25,2.1e-3)(76.4,7.7e-4)(76.55,2.3e-3)(76.7,7.6e-4)(77.0,7.5e-4)(77.3,7.6e-4)(77.6,7.8e-4)(77.9,8.0e-4)(78.2,8.3e-4)(78.5,8.5e-4)(78.65,2.8e-3)(78.8,8.6e-4)(78.95,2.5e-3)(79.1,8.7e-4)(79.25,3.0e-3)(79.4,8.8e-4)(79.55,2.6e-3)(79.7,8.9e-4)(79.85,3.1e-3)(80.0,9.0e-4)(80.15,2.7e-3)(80.3,9.0e-4)(80.45,3.3e-3)(80.6,9.0e-4)(80.75,2.9e-3)(80.9,9.0e-4)(81.05,3.6e-3)(81.2,9.0e-4)(81.35,3.2e-3)(81.5,8.9e-4)(81.65,4.0e-3)(81.8,8.8e-4)(81.95,3.4e-3)(82.1,8.8e-4)(82.25,3.8e-3)(82.4,8.7e-4)(82.55,3.1e-3)(82.7,8.6e-4)(82.85,3.6e-3)(83.0,8.5e-4)(83.15,3.0e-3)(83.3,8.5e-4)(83.45,3.5e-3)(83.6,8.4e-4)(83.75,3.0e-3)(83.9,8.3e-4)(84.05,3.8e-3)(84.2,8.2e-4)(84.35,3.2e-3)(84.5,8.2e-4)(84.65,4.2e-3)(84.8,8.1e-4)(84.95,2.8e-3)(85.1,8.0e-4)(85.25,2.2e-3)(85.4,8.0e-4)(85.55,2.0e-3)(85.7,8.0e-4)(85.85,1.9e-3)(86.0,8.0e-4)(86.15,2.0e-3)(86.3,8.1e-4)(86.45,1.8e-3)(86.6,8.2e-4)(86.75,2.1e-3)(86.9,8.3e-4)(87.05,1.9e-3)(87.2,8.4e-4)(87.35,2.3e-3)(87.5,8.5e-4)(87.65,2.5e-3)(87.8,8.6e-4)(87.95,2.8e-3)(88.1,8.6e-4)(88.25,2.6e-3)(88.4,8.5e-4)(88.55,3.0e-3)(88.7,8.4e-4)(88.85,2.7e-3)(89.0,8.2e-4)(89.15,3.4e-3)(89.3,8.0e-4)(89.6,7.5e-4)(90.0,7.0e-4)};
\addlegendentry{X-momentum}
\addplot[resline, color=cYmom] coordinates {(50.0,2.0e-3)(50.15,3.2e-3)(50.3,1.9e-3)(50.45,2.6e-3)(50.6,1.7e-3)(50.8,1.9e-3)(51.0,1.6e-3)(51.2,1.8e-3)(51.4,1.6e-3)(51.6,1.9e-3)(51.8,1.7e-3)(52.0,1.8e-3)(52.2,1.7e-3)(52.4,2.0e-3)(52.6,1.8e-3)(52.8,2.1e-3)(53.0,1.9e-3)(53.2,2.6e-3)(53.4,2.0e-3)(53.6,3.0e-3)(53.8,2.2e-3)(54.0,2.8e-3)(54.2,2.1e-3)(54.4,3.2e-3)(54.6,2.4e-3)(54.8,3.8e-3)(55.0,2.5e-3)(55.2,3.0e-3)(55.4,2.3e-3)(55.6,3.3e-3)(55.8,2.4e-3)(56.0,3.0e-3)(56.2,2.2e-3)(56.4,2.8e-3)(56.6,2.3e-3)(56.8,3.1e-3)(57.0,2.6e-3)(57.2,3.5e-3)(57.4,4.8e-3)(57.6,6.5e-3)(57.8,7.2e-3)(58.0,5.5e-3)(58.2,6.8e-3)(58.4,5.2e-3)(58.6,6.3e-3)(58.8,5.0e-3)(59.0,6.0e-3)(59.2,4.5e-3)(59.4,5.2e-3)(59.6,3.8e-3)(59.8,4.0e-3)(60.0,3.2e-3)(60.2,3.6e-3)(60.4,2.9e-3)(60.6,3.3e-3)(60.8,2.7e-3)(61.0,3.1e-3)(61.2,2.6e-3)(61.4,2.9e-3)(61.6,2.4e-3)(61.8,2.7e-3)(62.0,2.2e-3)(62.2,2.4e-3)(62.4,2.0e-3)(62.6,2.3e-3)(62.8,1.9e-3)(63.0,2.2e-3)(63.2,1.9e-3)(63.4,2.1e-3)(63.6,1.9e-3)(63.8,2.2e-3)(64.0,2.0e-3)(64.2,2.4e-3)(64.4,2.2e-3)(64.6,2.8e-3)(64.8,2.6e-3)(65.0,3.3e-3)(65.2,3.0e-3)(65.4,4.2e-3)(65.6,3.5e-3)(65.8,4.8e-3)(66.0,3.8e-3)(66.2,5.0e-3)(66.4,4.0e-3)(66.6,5.5e-3)(66.8,4.3e-3)(67.0,6.2e-3)(67.2,4.5e-3)(67.4,7.0e-3)(67.6,4.6e-3)(67.8,5.8e-3)(68.0,4.2e-3)(68.2,5.2e-3)(68.4,3.8e-3)(68.6,4.8e-3)(68.8,3.9e-3)(69.0,5.3e-3)(69.2,4.2e-3)(69.4,5.8e-3)(69.6,4.5e-3)(69.8,6.5e-3)(70.0,4.8e-3)(70.2,6.0e-3)(70.4,4.4e-3)(70.6,5.5e-3)(70.8,4.2e-3)(71.0,5.8e-3)(71.2,4.6e-3)(71.4,6.5e-3)(71.6,5.2e-3)(71.8,7.8e-3)(72.0,5.0e-3)(72.2,4.5e-3)(72.4,3.2e-3)(72.6,4.0e-3)(72.8,2.8e-3)(73.0,3.6e-3)(73.2,2.5e-3)(73.4,3.3e-3)(73.6,2.4e-3)(73.8,3.0e-3)(74.0,2.3e-3)(74.2,2.8e-3)(74.4,2.2e-3)(74.6,3.0e-3)(74.8,2.4e-3)(75.0,3.2e-3)(75.2,2.3e-3)(75.4,2.8e-3)(75.6,2.1e-3)(75.8,2.5e-3)(76.0,2.2e-3)(76.2,2.6e-3)(76.4,2.3e-3)(76.6,2.7e-3)(76.8,2.6e-3)(77.0,2.8e-3)(77.2,2.6e-3)(77.4,2.7e-3)(77.6,2.5e-3)(77.8,2.8e-3)(78.0,2.7e-3)(78.2,3.0e-3)(78.4,2.8e-3)(78.6,3.2e-3)(78.8,2.9e-3)(79.0,3.4e-3)(79.2,2.8e-3)(79.4,3.2e-3)(79.6,2.7e-3)(79.8,3.1e-3)(80.0,2.9e-3)(80.2,3.4e-3)(80.4,3.0e-3)(80.6,3.8e-3)(80.8,3.3e-3)(81.0,4.2e-3)(81.2,3.8e-3)(81.4,5.0e-3)(81.6,4.2e-3)(81.8,5.5e-3)(82.0,4.5e-3)(82.2,5.8e-3)(82.4,4.6e-3)(82.6,5.4e-3)(82.8,4.4e-3)(83.0,5.6e-3)(83.2,4.5e-3)(83.4,5.2e-3)(83.6,4.0e-3)(83.8,4.8e-3)(84.0,4.2e-3)(84.2,5.5e-3)(84.4,4.8e-3)(84.6,7.0e-3)(84.8,4.5e-3)(85.0,3.5e-3)(85.2,2.6e-3)(85.4,2.2e-3)(85.6,2.4e-3)(85.8,2.0e-3)(86.0,2.3e-3)(86.2,1.9e-3)(86.4,2.2e-3)(86.6,1.9e-3)(86.8,2.1e-3)(87.0,2.0e-3)(87.2,2.3e-3)(87.4,2.1e-3)(87.6,2.6e-3)(87.8,2.3e-3)(88.0,2.9e-3)(88.2,2.5e-3)(88.4,3.0e-3)(88.6,2.6e-3)(88.8,3.2e-3)(89.0,2.8e-3)(89.2,3.6e-3)(89.35,4.6e-3)(89.5,2.8e-3)(89.7,2.3e-3)(89.9,2.1e-3)(90.0,2.0e-3)};
\addlegendentry{Y-momentum}
\addplot[resline, color=cZmom] coordinates {(50.0,0.0085)(50.15,0.012)(50.3,0.0085)(50.45,0.0115)(50.6,0.0078)(50.9,0.0072)(51.2,0.007)(51.5,0.0072)(51.8,0.0068)(52.1,0.007)(52.4,0.0068)(52.7,0.007)(52.9,0.0072)(53.05,0.013)(53.2,0.0075)(53.4,0.012)(53.55,0.0078)(53.75,0.014)(53.9,0.008)(54.1,0.013)(54.25,0.008)(54.45,0.015)(54.6,0.0082)(54.8,0.014)(54.95,0.0083)(55.15,0.015)(55.3,0.0085)(55.5,0.013)(55.65,0.0085)(55.85,0.016)(56.0,0.0086)(56.2,0.014)(56.35,0.0088)(56.55,0.015)(56.7,0.0086)(56.9,0.013)(57.05,0.0085)(57.25,0.012)(57.4,0.0083)(57.7,0.0082)(58.0,0.008)(58.3,0.0082)(58.5,0.0125)(58.65,0.0082)(58.85,0.012)(59.0,0.008)(59.2,0.013)(59.35,0.0082)(59.55,0.012)(59.7,0.0085)(59.9,0.013)(60.05,0.0086)(60.25,0.0125)(60.4,0.0085)(60.6,0.013)(60.75,0.0086)(60.95,0.0125)(61.1,0.0088)(61.3,0.013)(61.45,0.0087)(61.65,0.0115)(61.8,0.0086)(62.0,0.0085)(62.3,0.0083)(62.6,0.0085)(62.9,0.0083)(63.1,0.0118)(63.25,0.0084)(63.5,0.0082)(63.8,0.008)(64.1,0.0078)(64.4,0.0076)(64.7,0.0078)(65.0,0.008)(65.2,0.012)(65.35,0.0082)(65.55,0.014)(65.7,0.0085)(65.9,0.015)(66.05,0.0088)(66.25,0.016)(66.4,0.009)(66.6,0.015)(66.75,0.009)(66.95,0.017)(67.1,0.0092)(67.3,0.015)(67.45,0.0092)(67.65,0.016)(67.8,0.009)(68.0,0.015)(68.15,0.009)(68.35,0.014)(68.5,0.0088)(68.7,0.015)(68.85,0.0088)(69.05,0.013)(69.2,0.0086)(69.4,0.014)(69.55,0.0085)(69.75,0.012)(69.9,0.0085)(70.2,0.0082)(70.5,0.008)(70.8,0.0078)(71.1,0.008)(71.4,0.0078)(71.7,0.008)(71.9,0.0085)(72.05,0.02)(72.2,0.009)(72.4,0.014)(72.55,0.0085)(72.75,0.015)(72.9,0.0085)(73.1,0.014)(73.25,0.0083)(73.45,0.015)(73.6,0.0082)(73.8,0.013)(73.95,0.0082)(74.15,0.014)(74.3,0.008)(74.5,0.013)(74.65,0.008)(74.85,0.0135)(75.0,0.0078)(75.2,0.012)(75.35,0.0078)(75.6,0.0077)(75.9,0.0075)(76.2,0.0074)(76.5,0.0076)(76.8,0.0075)(77.1,0.0078)(77.3,0.0105)(77.45,0.0077)(77.7,0.0078)(78.0,0.008)(78.2,0.0125)(78.35,0.008)(78.55,0.013)(78.7,0.0082)(78.9,0.014)(79.05,0.0083)(79.25,0.013)(79.4,0.0085)(79.6,0.014)(79.75,0.0085)(79.95,0.015)(80.1,0.0086)(80.3,0.014)(80.45,0.0087)(80.65,0.015)(80.8,0.0086)(81.0,0.013)(81.15,0.0085)(81.35,0.014)(81.5,0.0085)(81.7,0.0125)(81.85,0.0084)(82.05,0.013)(82.2,0.0083)(82.5,0.0082)(82.8,0.008)(83.1,0.0081)(83.4,0.008)(83.7,0.0082)(84.0,0.0083)(84.2,0.0125)(84.35,0.0084)(84.55,0.015)(84.7,0.0085)(84.9,0.014)(85.05,0.0086)(85.25,0.015)(85.4,0.0086)(85.6,0.014)(85.75,0.0086)(85.95,0.016)(86.1,0.0087)(86.3,0.014)(86.45,0.0087)(86.65,0.015)(86.8,0.0086)(87.0,0.014)(87.15,0.0085)(87.35,0.015)(87.5,0.0084)(87.7,0.013)(87.85,0.0083)(88.05,0.014)(88.2,0.0082)(88.4,0.0125)(88.55,0.008)(88.8,0.0078)(89.1,0.0077)(89.4,0.0074)(89.7,0.0072)(90.0,0.0072)};
\addlegendentry{Z-momentum}
\addplot[resline, color=cAir] coordinates {(50.0,3.0e-4)(50.2,4.5e-4)(50.4,2.8e-4)(50.6,4.0e-4)(50.8,2.6e-4)(51.0,3.5e-4)(51.2,2.7e-4)(51.4,4.2e-4)(51.6,2.9e-4)(51.8,3.8e-4)(52.0,3.0e-4)(52.2,4.5e-4)(52.4,3.2e-4)(52.6,5.0e-4)(52.8,3.5e-4)(53.0,4.8e-4)(53.2,3.6e-4)(53.4,5.5e-4)(53.6,3.8e-4)(53.8,6.5e-4)(54.0,4.2e-4)(54.2,5.5e-4)(54.4,4.0e-4)(54.6,6.0e-4)(54.8,4.4e-4)(55.0,7.0e-4)(55.2,4.6e-4)(55.4,6.0e-4)(55.6,4.8e-4)(55.8,6.5e-4)(56.0,5.0e-4)(56.2,6.2e-4)(56.4,4.8e-4)(56.6,6.8e-4)(56.8,5.2e-4)(57.0,6.5e-4)(57.2,5.0e-4)(57.4,6.0e-4)(57.6,5.4e-4)(57.8,6.2e-4)(58.0,5.5e-4)(58.2,6.3e-4)(58.4,5.6e-4)(58.6,6.4e-4)(58.8,5.8e-4)(59.0,6.5e-4)(59.2,5.8e-4)(59.4,6.8e-4)(59.6,6.0e-4)(59.8,7.5e-4)(60.0,6.5e-4)(60.2,8.5e-4)(60.4,6.5e-4)(60.6,7.5e-4)(60.8,6.2e-4)(61.0,7.0e-4)(61.2,6.0e-4)(61.4,7.2e-4)(61.6,6.2e-4)(61.8,6.8e-4)(62.0,5.8e-4)(62.2,6.6e-4)(62.4,5.6e-4)(62.6,6.5e-4)(62.8,5.5e-4)(63.0,6.3e-4)(63.2,5.6e-4)(63.4,6.5e-4)(63.6,5.8e-4)(63.8,6.8e-4)(64.0,6.0e-4)(64.2,7.0e-4)(64.4,6.2e-4)(64.6,7.2e-4)(64.8,6.4e-4)(65.0,7.5e-4)(65.2,6.5e-4)(65.4,7.2e-4)(65.6,6.3e-4)(65.8,7.5e-4)(66.0,6.6e-4)(66.2,7.8e-4)(66.4,6.8e-4)(66.6,8.0e-4)(66.8,7.0e-4)(67.0,7.8e-4)(67.2,6.8e-4)(67.4,7.5e-4)(67.6,6.5e-4)(67.8,7.2e-4)(68.0,6.4e-4)(68.2,7.0e-4)(68.4,6.2e-4)(68.6,6.8e-4)(68.8,6.0e-4)(69.0,6.8e-4)(69.2,6.0e-4)(69.4,7.0e-4)(69.6,6.2e-4)(69.8,7.5e-4)(70.0,6.5e-4)(70.2,8.0e-4)(70.4,7.0e-4)(70.6,8.5e-4)(70.8,7.2e-4)(71.0,8.8e-4)(71.2,7.5e-4)(71.4,8.5e-4)(71.6,7.2e-4)(71.8,8.0e-4)(72.0,6.8e-4)(72.2,7.5e-4)(72.4,6.5e-4)(72.6,7.2e-4)(72.8,6.0e-4)(73.0,6.8e-4)(73.2,5.6e-4)(73.4,6.4e-4)(73.6,5.2e-4)(73.8,6.0e-4)(74.0,5.0e-4)(74.2,5.8e-4)(74.4,4.8e-4)(74.6,5.6e-4)(74.8,4.9e-4)(75.0,5.5e-4)(75.2,4.8e-4)(75.4,5.6e-4)(75.6,5.0e-4)(75.8,5.8e-4)(76.0,5.0e-4)(76.2,5.5e-4)(76.4,4.6e-4)(76.6,5.2e-4)(76.8,4.5e-4)(77.0,5.0e-4)(77.2,4.4e-4)(77.4,5.2e-4)(77.6,4.8e-4)(77.8,5.8e-4)(78.0,5.2e-4)(78.2,6.5e-4)(78.4,5.8e-4)(78.6,7.5e-4)(78.8,6.5e-4)(79.0,8.0e-4)(79.2,7.0e-4)(79.4,8.5e-4)(79.6,7.5e-4)(79.8,9.0e-4)(80.0,8.0e-4)(80.2,9.5e-4)(80.4,8.5e-4)(80.6,9.8e-4)(80.8,8.2e-4)(81.0,9.5e-4)(81.2,8.0e-4)(81.4,9.0e-4)(81.6,7.5e-4)(81.8,8.5e-4)(82.0,7.2e-4)(82.2,8.0e-4)(82.4,6.8e-4)(82.6,7.5e-4)(82.8,6.5e-4)(83.0,7.2e-4)(83.2,6.4e-4)(83.4,7.0e-4)(83.6,6.2e-4)(83.8,6.8e-4)(84.0,6.0e-4)(84.2,6.6e-4)(84.4,5.8e-4)(84.6,6.4e-4)(84.8,5.5e-4)(85.0,5.0e-4)(85.2,4.2e-4)(85.4,3.8e-4)(85.6,4.5e-4)(85.8,4.0e-4)(86.0,5.0e-4)(86.2,5.5e-4)(86.4,6.5e-4)(86.6,6.0e-4)(86.8,7.0e-4)(87.0,6.5e-4)(87.2,7.5e-4)(87.4,6.8e-4)(87.6,8.0e-4)(87.8,7.0e-4)(88.0,7.8e-4)(88.2,7.0e-4)(88.4,8.0e-4)(88.6,7.2e-4)(88.8,8.5e-4)(89.0,7.5e-4)(89.2,8.8e-4)(89.4,7.6e-4)(89.6,8.2e-4)(89.8,7.4e-4)(90.0,8.0e-4)};
\addlegendentry{air}
\addplot[resline, color=cTke] coordinates {(50.0,1.0e-3)(50.15,1.4e-3)(50.3,9.5e-4)(50.5,1.2e-3)(50.7,9.0e-4)(50.9,1.1e-3)(51.1,9.2e-4)(51.3,1.0e-3)(51.5,8.8e-4)(51.7,9.5e-4)(51.9,8.6e-4)(52.1,9.2e-4)(52.3,8.5e-4)(52.5,9.0e-4)(52.7,8.4e-4)(52.9,8.8e-4)(53.05,1.3e-3)(53.2,9.0e-4)(53.35,2.0e-3)(53.5,1.0e-3)(53.65,1.6e-3)(53.8,1.1e-3)(53.95,2.2e-3)(54.1,1.2e-3)(54.25,3.5e-3)(54.4,1.5e-3)(54.55,2.6e-3)(54.7,1.1e-3)(54.85,1.8e-3)(55.0,1.0e-3)(55.15,2.0e-3)(55.3,1.0e-3)(55.45,1.5e-3)(55.6,9.8e-4)(55.75,2.5e-3)(55.9,1.0e-3)(56.05,1.6e-3)(56.2,9.5e-4)(56.35,2.2e-3)(56.5,9.8e-4)(56.65,1.4e-3)(56.8,9.5e-4)(56.95,1.8e-3)(57.1,9.0e-4)(57.25,1.3e-3)(57.4,8.5e-4)(57.6,7.5e-4)(57.8,6.5e-4)(58.0,6.0e-4)(58.2,5.8e-4)(58.4,6.2e-4)(58.6,5.7e-4)(58.8,6.0e-4)(59.0,6.5e-4)(59.15,1.5e-3)(59.3,3.0e-3)(59.45,4.2e-3)(59.6,1.8e-3)(59.75,1.0e-3)(59.9,8.5e-4)(60.05,1.5e-3)(60.2,9.0e-4)(60.35,1.2e-3)(60.5,8.8e-4)(60.65,1.6e-3)(60.8,8.5e-4)(60.95,1.1e-3)(61.1,8.4e-4)(61.25,1.4e-3)(61.4,8.2e-4)(61.55,1.0e-3)(61.7,8.0e-4)(61.85,1.3e-3)(62.0,7.8e-4)(62.2,8.2e-4)(62.4,7.5e-4)(62.6,8.0e-4)(62.8,7.2e-4)(63.0,7.6e-4)(63.2,7.0e-4)(63.4,7.3e-4)(63.6,6.8e-4)(63.8,7.0e-4)(64.0,6.5e-4)(64.2,6.8e-4)(64.4,6.3e-4)(64.6,6.6e-4)(64.8,6.5e-4)(65.0,8.0e-4)(65.15,2.0e-3)(65.3,4.0e-3)(65.45,5.5e-3)(65.6,2.5e-3)(65.75,1.3e-3)(65.9,1.1e-3)(66.05,2.0e-3)(66.2,1.0e-3)(66.35,1.6e-3)(66.5,1.05e-3)(66.65,2.4e-3)(66.8,1.0e-3)(66.95,1.5e-3)(67.1,1.0e-3)(67.25,2.0e-3)(67.4,9.8e-4)(67.55,1.7e-3)(67.7,9.5e-4)(67.85,2.2e-3)(68.0,9.5e-4)(68.15,1.5e-3)(68.3,9.2e-4)(68.45,1.9e-3)(68.6,9.0e-4)(68.75,1.4e-3)(68.9,9.0e-4)(69.05,2.0e-3)(69.2,9.2e-4)(69.35,1.6e-3)(69.5,9.0e-4)(69.65,2.2e-3)(69.8,9.0e-4)(69.95,1.5e-3)(70.1,8.8e-4)(70.3,1.2e-3)(70.5,8.5e-4)(70.7,1.6e-3)(70.9,8.6e-4)(71.1,1.3e-3)(71.3,8.8e-4)(71.5,2.0e-3)(71.65,9.0e-4)(71.8,3.0e-3)(71.95,1.0e-3)(72.1,1.5e-3)(72.25,8.0e-4)(72.4,1.2e-3)(72.55,7.5e-4)(72.7,1.6e-3)(72.85,7.2e-4)(73.0,1.1e-3)(73.15,7.0e-4)(73.3,1.8e-3)(73.45,6.8e-4)(73.6,1.2e-3)(73.75,6.8e-4)(73.9,1.5e-3)(74.05,6.6e-4)(74.2,1.1e-3)(74.35,6.5e-4)(74.5,1.4e-3)(74.65,6.5e-4)(74.8,1.0e-3)(74.95,6.4e-4)(75.1,1.3e-3)(75.25,6.4e-4)(75.4,9.0e-4)(75.6,6.3e-4)(75.8,6.5e-4)(76.0,6.2e-4)(76.2,6.4e-4)(76.4,6.0e-4)(76.6,6.3e-4)(76.8,6.1e-4)(77.0,6.5e-4)(77.2,6.3e-4)(77.4,7.0e-4)(77.6,6.6e-4)(77.8,8.0e-4)(77.95,2.0e-3)(78.1,1.2e-3)(78.25,1.6e-3)(78.4,9.0e-4)(78.55,1.8e-3)(78.7,8.5e-4)(78.85,1.3e-3)(79.0,8.2e-4)(79.15,1.7e-3)(79.3,8.0e-4)(79.45,1.2e-3)(79.6,8.0e-4)(79.75,1.9e-3)(79.9,8.2e-4)(80.05,1.4e-3)(80.2,8.4e-4)(80.35,2.0e-3)(80.5,8.5e-4)(80.65,1.5e-3)(80.8,8.6e-4)(80.95,2.3e-3)(81.1,8.5e-4)(81.25,1.6e-3)(81.4,8.4e-4)(81.55,2.0e-3)(81.7,8.2e-4)(81.85,1.4e-3)(82.0,8.0e-4)(82.2,9.0e-4)(82.4,7.8e-4)(82.6,8.5e-4)(82.8,7.6e-4)(83.0,8.0e-4)(83.2,7.5e-4)(83.4,7.8e-4)(83.6,7.2e-4)(83.8,7.5e-4)(84.0,7.0e-4)(84.2,7.4e-4)(84.4,6.8e-4)(84.6,7.0e-4)(84.8,6.6e-4)(85.0,7.0e-4)(85.15,1.6e-3)(85.3,8.0e-4)(85.45,2.2e-3)(85.6,8.5e-4)(85.75,1.5e-3)(85.9,8.0e-4)(86.05,1.9e-3)(86.2,7.8e-4)(86.35,1.3e-3)(86.5,7.6e-4)(86.65,2.0e-3)(86.8,7.5e-4)(86.95,1.4e-3)(87.1,7.4e-4)(87.25,1.8e-3)(87.4,7.3e-4)(87.55,1.2e-3)(87.7,7.2e-4)(87.85,1.7e-3)(88.0,7.0e-4)(88.15,1.3e-3)(88.3,6.9e-4)(88.45,1.9e-3)(88.6,6.8e-4)(88.75,1.2e-3)(88.9,6.8e-4)(89.05,1.6e-3)(89.2,6.6e-4)(89.35,2.2e-3)(89.5,6.5e-4)(89.7,6.3e-4)(90.0,6.2e-4)};
\addlegendentry{Tke}
\addplot[resline, color=cTdr] coordinates {(50.0,6.0e-5)(50.2,7.5e-5)(50.4,5.5e-5)(50.5,9.0e-5)(50.6,6.0e-5)(50.8,7.0e-5)(51.0,5.5e-5)(51.2,6.5e-5)(51.4,5.2e-5)(51.6,6.2e-5)(51.8,5.0e-5)(52.0,6.0e-5)(52.2,4.8e-5)(52.4,5.8e-5)(52.6,4.5e-5)(52.8,6.0e-5)(52.95,1.8e-4)(53.1,5.5e-5)(53.3,7.0e-5)(53.5,6.0e-5)(53.7,2.45e-4)(53.85,9.0e-5)(54.0,1.6e-4)(54.1,6.0e-5)(54.3,1.2e-4)(54.45,5.5e-5)(54.6,6.5e-5)(54.8,5.2e-5)(55.0,6.2e-5)(55.2,5.0e-5)(55.4,6.5e-5)(55.6,5.2e-5)(55.9,1.9e-4)(56.0,6.0e-5)(56.2,1.7e-4)(56.35,6.5e-5)(56.6,2.8e-4)(56.75,7.0e-5)(56.9,1.3e-4)(57.05,4.5e-5)(57.25,1.0e-4)(57.4,4.0e-5)(57.6,5.5e-5)(57.8,3.6e-5)(58.0,5.0e-5)(58.2,3.5e-5)(58.4,5.5e-5)(58.6,3.8e-5)(58.8,6.0e-5)(59.0,1.0e-4)(59.15,6.0e-4)(59.3,1.1e-3)(59.4,2.0e-4)(59.5,1.0e-3)(59.6,4.0e-4)(59.75,6.0e-5)(59.9,4.5e-5)(60.1,5.5e-5)(60.3,4.5e-5)(60.5,5.5e-5)(60.7,4.6e-5)(60.9,8.0e-5)(61.05,5.0e-5)(61.25,5.5e-5)(61.45,4.5e-5)(61.65,5.2e-5)(61.9,1.0e-4)(62.05,5.0e-5)(62.25,5.5e-5)(62.45,4.5e-5)(62.6,8.0e-5)(62.75,4.8e-5)(62.95,5.2e-5)(63.15,4.3e-5)(63.35,4.8e-5)(63.55,4.0e-5)(63.75,4.5e-5)(63.95,3.8e-5)(64.15,4.2e-5)(64.35,3.5e-5)(64.55,4.0e-5)(64.75,3.4e-5)(64.95,3.8e-5)(65.15,6.0e-5)(65.3,1.3e-4)(65.45,2.2e-4)(65.6,2.8e-4)(65.75,2.0e-4)(65.9,1.0e-4)(66.0,5.0e-5)(66.15,3.2e-5)(66.3,4.5e-5)(66.45,3.0e-5)(66.6,5.0e-5)(66.75,3.4e-5)(66.9,5.5e-5)(67.05,3.5e-5)(67.2,6.0e-5)(67.35,4.0e-5)(67.5,5.0e-5)(67.6,5.0e-4)(67.7,6.0e-5)(67.85,4.0e-5)(68.0,6.5e-5)(68.15,3.8e-5)(68.3,8.0e-5)(68.45,4.0e-5)(68.6,6.0e-5)(68.75,3.6e-5)(68.9,7.0e-5)(69.05,4.2e-5)(69.2,6.5e-5)(69.35,4.5e-5)(69.5,8.0e-5)(69.7,2.2e-4)(69.85,5.5e-5)(70.0,7.0e-5)(70.2,5.0e-5)(70.4,1.4e-4)(70.55,5.5e-5)(70.7,8.0e-5)(70.85,5.0e-5)(71.0,1.0e-4)(71.15,5.5e-5)(71.3,7.5e-5)(71.45,5.0e-5)(71.6,9.0e-5)(71.75,6.0e-5)(71.9,1.1e-4)(72.05,6.5e-5)(72.2,1.6e-4)(72.35,3.1e-4)(72.5,1.2e-4)(72.65,7.0e-5)(72.8,9.0e-5)(72.95,6.0e-5)(73.1,8.0e-5)(73.25,5.5e-5)(73.4,9.0e-5)(73.55,6.0e-5)(73.7,7.5e-5)(73.85,5.5e-5)(74.0,8.0e-5)(74.15,5.5e-5)(74.3,7.0e-5)(74.45,5.0e-5)(74.6,6.5e-5)(74.8,8.0e-5)(75.0,5.0e-5)(75.2,6.0e-5)(75.4,4.5e-5)(75.6,5.5e-5)(75.8,4.2e-5)(76.0,5.0e-5)(76.2,4.0e-5)(76.4,4.5e-5)(76.6,3.8e-5)(76.8,4.0e-5)(77.0,3.6e-5)(77.2,3.8e-5)(77.4,3.4e-5)(77.6,3.6e-5)(77.8,3.4e-5)(78.0,5.0e-5)(78.1,1.0e-4)(78.25,6.0e-5)(78.4,8.0e-5)(78.55,5.5e-5)(78.7,7.0e-5)(78.85,5.0e-5)(79.0,8.5e-5)(79.15,5.5e-5)(79.3,7.0e-5)(79.45,5.5e-5)(79.6,9.0e-5)(79.75,1.9e-4)(79.9,7.0e-5)(80.05,9.0e-5)(80.2,6.0e-5)(80.35,8.0e-5)(80.5,5.5e-5)(80.65,7.0e-5)(80.8,5.5e-5)(80.95,8.5e-5)(81.1,6.0e-5)(81.25,7.5e-5)(81.4,1.2e-4)(81.55,6.0e-5)(81.7,8.0e-5)(81.85,5.5e-5)(82.0,2.0e-4)(82.15,7.0e-5)(82.3,9.0e-5)(82.45,6.0e-5)(82.6,1.3e-4)(82.75,6.5e-5)(82.9,1.1e-4)(83.05,6.0e-5)(83.2,1.5e-4)(83.35,7.0e-5)(83.5,9.0e-5)(83.65,6.0e-5)(83.8,1.2e-4)(83.95,6.5e-5)(84.1,8.0e-5)(84.25,1.4e-4)(84.4,6.0e-5)(84.55,9.0e-5)(84.7,6.5e-5)(84.85,1.2e-4)(85.0,7.0e-5)(85.15,1.6e-4)(85.3,8.0e-5)(85.45,3.8e-4)(85.55,1.0e-4)(85.7,3.4e-4)(85.85,7.0e-5)(86.0,6.0e-5)(86.15,7.5e-5)(86.3,5.0e-5)(86.45,6.5e-5)(86.6,4.5e-5)(86.75,6.0e-5)(86.9,4.5e-5)(87.05,5.5e-5)(87.2,4.2e-5)(87.35,5.5e-5)(87.5,4.5e-5)(87.65,6.0e-5)(87.8,5.0e-5)(87.95,7.0e-5)(88.1,5.0e-5)(88.3,8.0e-5)(88.5,1.0e-4)(88.7,1.4e-4)(88.9,1.9e-4)(89.1,2.4e-4)(89.2,2.6e-4)(89.3,2.0e-4)(89.45,1.2e-4)(89.6,1.6e-4)(89.75,7.0e-5)(89.9,5.0e-5)(90.0,4.5e-5)};
\addlegendentry{Tdr}
\end{axis}
\end{tikzpicture}
\end{document}
